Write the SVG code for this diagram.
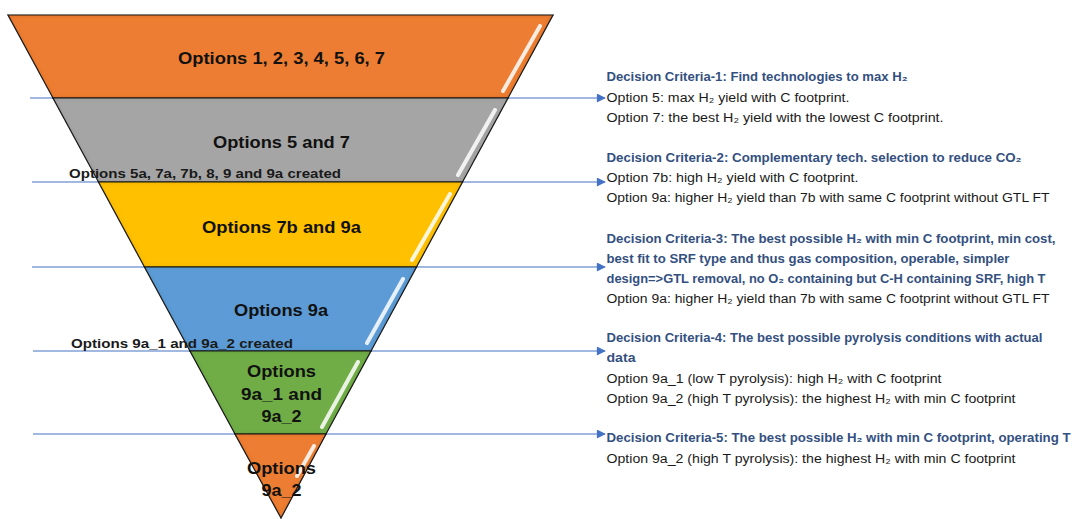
<svg xmlns="http://www.w3.org/2000/svg" width="1072" height="519" viewBox="0 0 1072 519">
<style>
.band{stroke:#1e1e1e;stroke-width:1.2;stroke-linejoin:miter}
.lbl{font-family:"Liberation Sans",Arial,sans-serif;font-weight:bold;font-size:16.5px;fill:#111;text-anchor:middle}
.sub{font-family:"Liberation Sans",Arial,sans-serif;font-weight:bold;font-size:13px;fill:#1a1a1a}
.hd{font-family:"Liberation Sans",Arial,sans-serif;font-weight:bold;font-size:12.5px;fill:#34507f}
.tx{font-family:"Liberation Sans",Arial,sans-serif;font-size:12.5px;fill:#1a1a1a}
.gl{stroke:#ffffff;stroke-width:4;stroke-linecap:round;opacity:0.85}
.cn{stroke:#4472c4;stroke-width:1.1;fill:none}
</style>
<defs>
<marker id="ah" viewBox="0 0 10 10" refX="9" refY="5" markerWidth="10" markerHeight="9" markerUnits="userSpaceOnUse" orient="auto">
<path d="M0,0 L10,5 L0,10 z" fill="#4472c4"/>
</marker>
<filter id="inner" x="-5%" y="-5%" width="110%" height="110%">
<feFlood flood-color="#000" flood-opacity="0.35" result="f"/>
<feComposite in="f" in2="SourceAlpha" operator="out" result="o"/>
<feGaussianBlur in="o" stdDeviation="2" result="b"/>
<feComposite in="b" in2="SourceAlpha" operator="in" result="s"/>
<feMerge><feMergeNode in="SourceGraphic"/><feMergeNode in="s"/></feMerge>
</filter>
</defs>

<g id="connectors">
<line class="cn" x1="30" y1="98" x2="605" y2="98" marker-end="url(#ah)"/>
<line class="cn" x1="32" y1="182" x2="605" y2="182" marker-end="url(#ah)"/>
<line class="cn" x1="32" y1="267" x2="605" y2="267" marker-end="url(#ah)"/>
<line class="cn" x1="33" y1="351" x2="605" y2="351" marker-end="url(#ah)"/>
<line class="cn" x1="33" y1="434" x2="605" y2="434" marker-end="url(#ah)"/>
</g>

<g id="band1">
<polygon class="band" points="8,15 553,15 508,98 53,98" fill="#ed7d31" filter="url(#inner)"/>
<line class="gl" x1="540" y1="26" x2="503" y2="91"/>
<text class="lbl" x="281.5" y="64" textLength="207" lengthAdjust="spacingAndGlyphs">Options 1, 2, 3, 4, 5, 6, 7</text>
</g>
<g id="band2">
<polygon class="band" points="53,98 508,98 462.5,182 98.5,182" fill="#a5a5a5" filter="url(#inner)"/>
<line class="gl" x1="495" y1="110" x2="458" y2="175"/>
<text class="lbl" x="281.5" y="148" textLength="137" lengthAdjust="spacingAndGlyphs">Options 5 and 7</text>
</g>
<g id="band3">
<polygon class="band" points="98.5,182 462.5,182 416.5,267 144.5,267" fill="#ffc000" filter="url(#inner)"/>
<line class="gl" x1="450" y1="194" x2="412" y2="260"/>
<text class="lbl" x="281.5" y="233" textLength="159" lengthAdjust="spacingAndGlyphs">Options 7b and 9a</text>
</g>
<g id="band4">
<polygon class="band" points="144.5,267 416.5,267 371,351 190,351" fill="#5b9bd5" filter="url(#inner)"/>
<line class="gl" x1="403" y1="279" x2="367" y2="343"/>
<text class="lbl" x="281" y="316" textLength="94" lengthAdjust="spacingAndGlyphs">Options 9a</text>
</g>
<g id="band5">
<polygon class="band" points="190,351 371,351 326,434 235,434" fill="#70ad47" filter="url(#inner)"/>
<line class="gl" x1="358" y1="362" x2="322" y2="427"/>
<text class="lbl" x="281.5" y="377" textLength="69" lengthAdjust="spacingAndGlyphs">Options</text>
<text class="lbl" x="281.5" y="400" textLength="81" lengthAdjust="spacingAndGlyphs">9a_1 and</text>
<text class="lbl" x="281.5" y="422" textLength="40" lengthAdjust="spacingAndGlyphs">9a_2</text>
</g>
<g id="band6">
<polygon class="band" points="235,434 326,434 281,518" fill="#ed7d31" filter="url(#inner)"/>
<line class="gl" x1="314" y1="446" x2="297" y2="476"/>
<text class="lbl" x="281.5" y="474" textLength="69" lengthAdjust="spacingAndGlyphs">Options</text>
<text class="lbl" x="281.5" y="496" textLength="40" lengthAdjust="spacingAndGlyphs">9a_2</text>
</g>

<g id="created-labels">
<text class="sub" x="69" y="178" textLength="272" lengthAdjust="spacingAndGlyphs">Options 5a, 7a, 7b, 8, 9 and 9a created</text>
<text class="sub" x="71" y="348" textLength="222" lengthAdjust="spacingAndGlyphs">Options 9a_1 and 9a_2 created</text>
</g>

<g id="criteria-1">
<text class="hd" x="606.5" y="81" textLength="301" lengthAdjust="spacingAndGlyphs">Decision Criteria-1: Find technologies to max H₂</text>
<text class="tx" x="606.5" y="102" textLength="243" lengthAdjust="spacingAndGlyphs">Option 5: max H₂ yield with C footprint.</text>
<text class="tx" x="606.5" y="122" textLength="337" lengthAdjust="spacingAndGlyphs">Option 7: the best H₂ yield with the lowest C footprint.</text>
</g>
<g id="criteria-2">
<text class="hd" x="606.5" y="162" textLength="415" lengthAdjust="spacingAndGlyphs">Decision Criteria-2: Complementary tech. selection to reduce CO₂</text>
<text class="tx" x="606.5" y="182" textLength="252" lengthAdjust="spacingAndGlyphs">Option 7b: high H₂ yield with C footprint.</text>
<text class="tx" x="606.5" y="202" textLength="443" lengthAdjust="spacingAndGlyphs">Option 9a: higher H₂ yield than 7b with same C footprint without GTL FT</text>
</g>
<g id="criteria-3">
<text class="hd" x="606.5" y="243" textLength="449" lengthAdjust="spacingAndGlyphs">Decision Criteria-3: The best possible H₂ with min C footprint, min cost,</text>
<text class="hd" x="606.5" y="263" textLength="403" lengthAdjust="spacingAndGlyphs">best fit to SRF type and thus gas composition, operable, simpler</text>
<text class="hd" x="606.5" y="283" textLength="439" lengthAdjust="spacingAndGlyphs">design=&gt;GTL removal, no O₂ containing but C-H containing SRF, high T</text>
<text class="tx" x="606.5" y="303" textLength="443" lengthAdjust="spacingAndGlyphs">Option 9a: higher H₂ yield than 7b with same C footprint without GTL FT</text>
</g>
<g id="criteria-4">
<text class="hd" x="606.5" y="342" textLength="436" lengthAdjust="spacingAndGlyphs">Decision Criteria-4: The best possible pyrolysis conditions with actual</text>
<text class="hd" x="606.5" y="362" textLength="29" lengthAdjust="spacingAndGlyphs">data</text>
<text class="tx" x="606.5" y="383" textLength="335" lengthAdjust="spacingAndGlyphs">Option 9a_1 (low T pyrolysis): high H₂ with C footprint</text>
<text class="tx" x="606.5" y="403" textLength="409" lengthAdjust="spacingAndGlyphs">Option 9a_2 (high T pyrolysis): the highest H₂ with min C footprint</text>
</g>
<g id="criteria-5">
<text class="hd" x="606.5" y="442" textLength="464" lengthAdjust="spacingAndGlyphs">Decision Criteria-5: The best possible H₂ with min C footprint, operating T</text>
<text class="tx" x="606.5" y="463" textLength="409" lengthAdjust="spacingAndGlyphs">Option 9a_2 (high T pyrolysis): the highest H₂ with min C footprint</text>
</g>
</svg>
